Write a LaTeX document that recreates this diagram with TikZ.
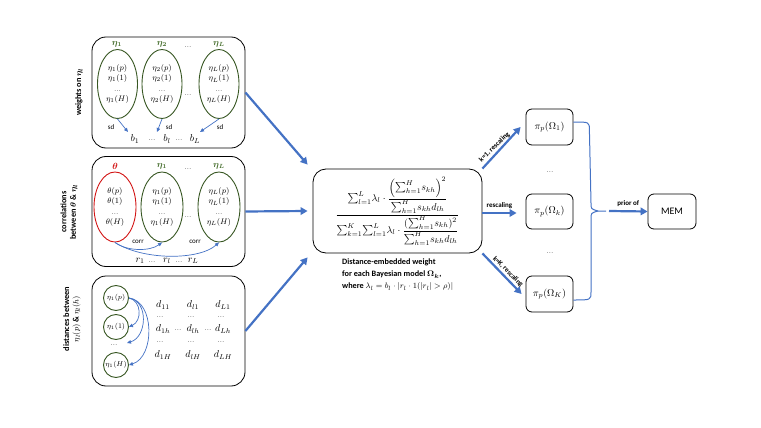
\documentclass[tikz,border=0pt]{standalone}
\usepackage{amsmath,amssymb,bm}
\usepackage{fontspec}
\setsansfont{Carlito}
\usetikzlibrary{arrows.meta,shapes.geometric,calc}
\definecolor{myblue}{RGB}{68,114,196}
\definecolor{mygreen}{RGB}{56,87,35}
\definecolor{mylgreen}{RGB}{70,110,45}
\definecolor{myred}{RGB}{210,20,20}
\newcommand{\tsm}{\textstyle\sum}
\begin{document}
\begin{tikzpicture}[x=1pt,y=-1pt,font=\sffamily,
  panel/.style={draw,rounded corners=14pt,line width=0.8pt,minimum width=153pt,inner sep=0pt},
  gell/.style={draw=mygreen,ellipse,line width=0.9pt,minimum width=40pt,minimum height=69pt,inner sep=0pt},
  rell/.style={draw=myred,ellipse,line width=0.9pt,minimum width=42pt,minimum height=70pt,inner sep=0pt},
  gcirc/.style={draw=mygreen,circle,line width=0.9pt,minimum size=25pt,inner sep=0pt,font=\fontsize{7.5}{8}\selectfont},
  inner/.style={align=center,font=\fontsize{8.5}{10.3}\selectfont},
  glab/.style={text=mylgreen,font=\fontsize{9}{10}\selectfont},
  dots/.style={font=\fontsize{7}{8}\selectfont,inner sep=0pt},
  small/.style={font=\fontsize{7}{8}\selectfont\sffamily},
  mlab/.style={font=\fontsize{10}{11}\selectfont,inner sep=0pt},
  sidelab/.style={rotate=90,align=center,font=\fontsize{8.3}{9.5}\selectfont\sffamily\bfseries},
  thinarrow/.style={draw=myblue,line width=0.7pt,-{Triangle[length=4pt,width=3.5pt]}},
  bigarrow/.style={draw=myblue,line width=2.2pt,-{Triangle[length=7pt,width=7.5pt]}},
  rbox/.style={draw,rounded corners=6pt,line width=0.8pt,minimum width=47pt,minimum height=36pt,inner sep=0pt,font=\fontsize{10}{11}\selectfont},
  arrlab/.style={font=\fontsize{7}{8}\selectfont\sffamily\bfseries,inner sep=1.5pt}
]
\useasboundingbox (0,0) rectangle (761,428);

% ---------- panel 1 ----------
\node[panel,minimum height=111pt] (p1) at (168.5,92.5) {};
\node[sidelab] (s1) at (79,92) {weights on $\bm{\eta_l}$};
\node[glab] (l11) at (117,44) {$\bm{\eta_1}$};
\node[glab] (l12) at (162,44) {$\bm{\eta_2}$};
\node[dots] (l1d) at (188,47) {...};
\node[glab] (l13) at (219,44) {$\bm{\eta_L}$};
\node[gell] (e11) at (117.5,84) {};
\node[gell] (e12) at (162,84) {};
\node[gell] (e13) at (219,84) {};
\node[inner] at (e11) {$\eta_1(p)$\\$\eta_1(1)$\\{\fontsize{7}{8}\selectfont ...}\\$\eta_1(H)$};
\node[inner] at (e12) {$\eta_2(p)$\\$\eta_2(1)$\\{\fontsize{7}{8}\selectfont ...}\\$\eta_2(H)$};
\node[inner] at (e13) {$\eta_L(p)$\\$\eta_L(1)$\\{\fontsize{7}{8}\selectfont ...}\\$\eta_L(H)$};
\node[dots] (m1d) at (188,95) {...};
\coordinate (b1t) at (128,132);
\coordinate (b2t) at (157,132);
\coordinate (b3t) at (200,132);
\draw[thinarrow] (e11.south) -- (b1t);
\draw[thinarrow] (e12.south) -- (b2t);
\draw[thinarrow] (e13.south) -- (b3t);
\node[small] at (111,127) {sd};
\node[small] at (169,127) {sd};
\node[small] at (220,127) {sd};
\node[mlab] (b1) at (135,139) {$b_1$};
\node[dots] at (152,140) {...};
\node[mlab] (bl) at (167,139) {$b_l$};
\node[dots] at (179,140) {...};
\node[mlab] (bL) at (195,139) {$b_L$};

% ---------- panel 2 ----------
\node[panel,minimum height=110pt] (p2) at (168.5,211.5) {};
\node[sidelab] (s2) at (69,212) {correlations\\between $\bm{\theta}$ \& $\bm{\eta_l}$};
\node[glab,text=myred] (l21) at (115,166) {$\bm{\theta}$};
\node[glab] (l22) at (162,166) {$\bm{\eta_1}$};
\node[dots] (l2d) at (188,169) {...};
\node[glab] (l23) at (219,166) {$\bm{\eta_L}$};
\node[rell] (e21) at (115,207) {};
\node[gell,minimum width=42pt,minimum height=70pt] (e22) at (162,207) {};
\node[gell,minimum width=42pt,minimum height=70pt] (e23) at (219,207) {};
\node[inner] at (e21) {$\theta(p)$\\$\theta(1)$\\{\fontsize{7}{8}\selectfont ...}\\$\theta(H)$};
\node[inner] at (e22) {$\eta_1(p)$\\$\eta_1(1)$\\{\fontsize{7}{8}\selectfont ...}\\$\eta_1(H)$};
\node[inner] at (e23) {$\eta_L(p)$\\$\eta_L(1)$\\{\fontsize{7}{8}\selectfont ...}\\$\eta_L(H)$};
\node[dots] (m2d) at (188,217) {...};
\draw[thinarrow] (e21.south) .. controls ($(e21.south)+(12,9)$) and ($(e22.south)+(-12,9)$) .. (e22.south);
\draw[thinarrow] (e21.south) .. controls ($(e21.south)+(28,18)$) and ($(e23.south)+(-20,18)$) .. (e23.south);
\node[small] at (138,242) {corr};
\node[small] at (195,242) {corr};
\node[mlab] (r1) at (140,261) {$r_1$};
\node[dots] at (152,262) {...};
\node[mlab] (rl) at (167,261) {$r_l$};
\node[dots] at (179,262) {...};
\node[mlab] (rL) at (193,261) {$r_L$};

% ---------- panel 3 ----------
\node[panel,minimum height=110pt] (p3) at (168.5,331) {};
\node[sidelab] (s3) at (72,319) {distances between\\$\eta_l(p)$ \& $\eta_l(h)$};
\node[gcirc] (c1) at (116,298) {$\eta_1(p)$};
\node[gcirc] (c2) at (116,327) {$\eta_1(1)$};
\node[dots] (c2d) at (114,345) {...};
\node[gcirc] (c3) at (116,365) {$\eta_1(H)$};
\coordinate (cdt) at (127,343);
\draw[thinarrow] (c1.east) .. controls ($(c1.east)+(13,3)$) and ($(c2.east)+(13,-6)$) .. (c2.east);
\draw[thinarrow] (c1.east) .. controls ($(c1.east)+(20,3)$) and ($(cdt)+(20,-6)$) .. (cdt);
\draw[thinarrow] (c1.east) .. controls ($(c1.east)+(26,3)$) and ($(c3.east)+(26,-8)$) .. (c3.east);
\node[mlab] at (163,305) {$d_{11}$};
\node[mlab] at (193,305) {$d_{l1}$};
\node[mlab] at (223,305) {$d_{L1}$};
\node[dots] at (160,317) {...};
\node[dots] at (191,317) {...};
\node[dots] at (221,317) {...};
\node[mlab] at (163,329) {$d_{1h}$};
\node[dots] at (178,330) {...};
\node[mlab] at (193,329) {$d_{lh}$};
\node[dots] at (208,330) {...};
\node[mlab] at (223,329) {$d_{Lh}$};
\node[dots] at (160,342) {...};
\node[dots] at (191,342) {...};
\node[dots] at (221,342) {...};
\node[mlab] at (163,355) {$d_{1H}$};
\node[mlab] at (193,355) {$d_{lH}$};
\node[mlab] at (223,355) {$d_{LH}$};

% ---------- center ----------
\node[draw,rounded corners=13pt,line width=0.8pt,minimum width=169pt,minimum height=84pt,inner sep=0pt] (c) at (397.5,211) {};
\node[font=\fontsize{10.3}{12}\selectfont,inner sep=0pt] (f) at (397.5,211) {$\displaystyle\frac{{\tsm_{l=1}^{L}}\lambda_l\cdot\displaystyle\frac{\left({\tsm_{h=1}^{H}}s_{kh}\right)^2}{{\tsm_{h=1}^{H}}s_{kh}d_{lh}}}{{\tsm_{k=1}^{K}}{\tsm_{l=1}^{L}}\lambda_l\cdot\displaystyle\frac{({\tsm_{h=1}^{H}}s_{kh})^2}{{\tsm_{h=1}^{H}}s_{kh}d_{lh}}}$};
\node[anchor=west,align=left,font=\fontsize{8.2}{12}\selectfont\sffamily,inner sep=0pt] (cap) at (342,275) {\textbf{Distance-embedded weight}\\\textbf{for each Bayesian model $\bm{\Omega_k}$,}\\\textbf{where} $\lambda_l=b_l\cdot|r_l\cdot 1(|r_l|>\rho)|$};

\draw[bigarrow] (p1.east) -- ([shift={(-5,-4)}]c.north west);
\draw[bigarrow] (p2.east) -- ([xshift=-5]c.west);
\draw[bigarrow] (p3.east) -- ([shift={(-5,4)}]c.south west);

% ---------- right ----------
\node[rbox] (o1) at (549.5,127) {$\pi_p(\Omega_1)$};
\node[rbox,minimum height=35pt] (ok) at (549.5,211.5) {$\pi_p(\Omega_k)$};
\node[rbox] (oK) at (549.5,294) {$\pi_p(\Omega_K)$};
\node[dots] at (550,172) {...};
\node[dots] at (550,253) {...};
\node[rbox,minimum width=48pt,minimum height=35pt,font=\fontsize{10}{11}\selectfont\sffamily] (mem) at (672,211.5) {MEM};

\draw[bigarrow] (c.north east) -- node[pos=0.42,rotate=44,anchor=south,arrlab] {k=1, rescaling} ([xshift=-5]o1.west);
\draw[bigarrow] ([yshift=-2]c.east) -- node[midway,anchor=south,arrlab,yshift=2] {rescaling} ([xshift=-9,yshift=-1.5]ok.west);
\draw[bigarrow] (c.south east) -- node[pos=0.55,rotate=-45,anchor=south,arrlab] {k=K, rescaling} ([xshift=-4]oK.west);

\coordinate (brt) at (606,211);
\draw[myblue,line width=1pt] ([yshift=5]o1.east) .. controls ++(16,0) and ++(0,-8) .. ++(16,8) -- (591,203) .. controls (591,209) .. (598,211) -- (brt);
\draw[myblue,line width=1pt] (598,211) .. controls (591,213) .. (591,219) -- (591,292) .. controls (591,300) .. ([yshift=-6]oK.east);
\draw[bigarrow] ([xshift=3]brt) -- node[midway,anchor=south,arrlab,yshift=2] {prior of} (mem.west);
\end{tikzpicture}
\end{document}
